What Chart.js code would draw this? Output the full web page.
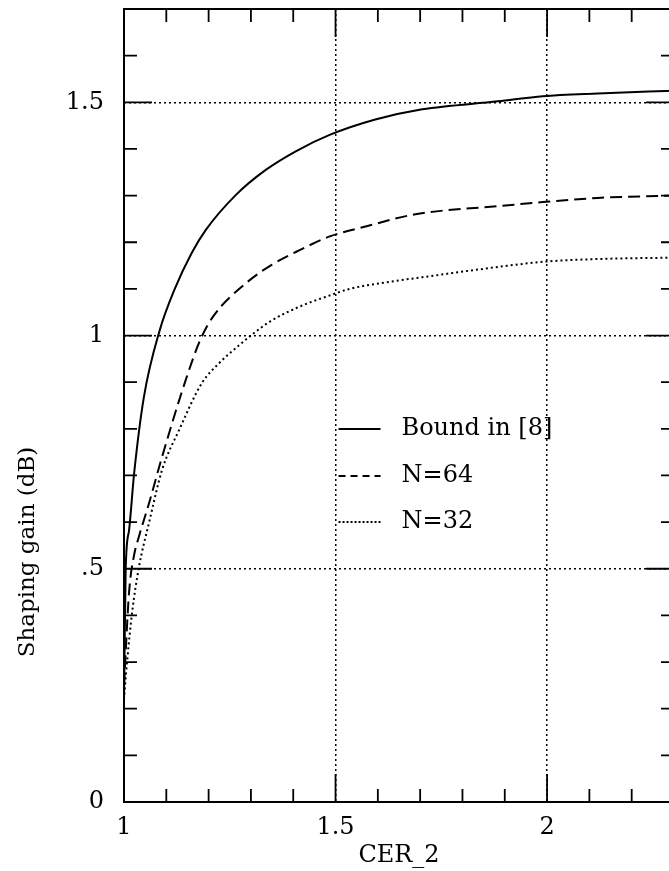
<!DOCTYPE html>
<html>
<head>
<meta charset="utf-8">
<script src="https://cdn.jsdelivr.net/npm/chart.js@4"></script>
<style>
  html, body { margin: 0; padding: 0; background: #fff; overflow: hidden; }
  #wrap { width: 680px; height: 871px; }
</style>
</head>
<body>
<div id="wrap"><canvas id="c" width="680" height="871"></canvas></div>
<script>
// ---- data ----
const boundX = [1.0, 1.004, 1.012, 1.024, 1.047, 1.084, 1.12, 1.16, 1.193, 1.264, 1.335, 1.406, 1.486, 1.594, 1.705, 1.884, 1.99, 2.12, 2.3];
const boundY = [0.22, 0.50, 0.583, 0.705, 0.868, 1.01, 1.10, 1.177, 1.226, 1.301, 1.355, 1.395, 1.43, 1.463, 1.485, 1.502, 1.513, 1.519, 1.525];

const n64X = [1.0, 1.012, 1.024, 1.035, 1.059, 1.09, 1.146, 1.18, 1.21, 1.288, 1.35, 1.415, 1.488, 1.564, 1.689, 1.892, 1.99, 2.12, 2.3];
const n64Y = [0.25, 0.45, 0.53, 0.568, 0.64, 0.74, 0.905, 0.99, 1.04, 1.112, 1.152, 1.183, 1.213, 1.232, 1.26, 1.278, 1.286, 1.295, 1.30];

const n32X = [1.0, 1.002, 1.007, 1.019, 1.035, 1.059, 1.09, 1.13, 1.184, 1.224, 1.264, 1.30, 1.345, 1.415, 1.493, 1.533, 1.627, 1.705, 1.884, 1.99, 2.12, 2.3];
const n32Y = [0.22, 0.244, 0.298, 0.405, 0.502, 0.598, 0.712, 0.797, 0.898, 0.94, 0.973, 1.0, 1.03, 1.062, 1.088, 1.1, 1.115, 1.125, 1.147, 1.158, 1.164, 1.167];

const seriesNames = ['Bound in [8]', 'N=64', 'N=32'];
const xTickValues = [1, 1.5, 2];
const xTickLabels = ['1', '1.5', '2'];
const yTickValues = [0, 0.5, 1, 1.5];
const yTickLabels = ['0', '.5', '1', '1.5'];
const xTitle = 'CER_2';
const yTitle = 'Shaping gain (dB)';

// ---- chart ----
const FONT = '"DejaVu Serif", serif';
const dashes = [[], [12, 6], [2, 3]];
const legendDashes = [[], [7, 5], [2, 2]];

function pts(xs, ys) { return xs.map((x, i) => ({ x: x, y: ys[i] })); }
function isMajor(v) { return Math.abs(v * 2 - Math.round(v * 2)) < 1e-6; }
function labelFor(v, vals, labs) {
  for (let i = 0; i < vals.length; i++) if (Math.abs(vals[i] - v) < 1e-6) return labs[i];
  return '';
}

const frameTicks = {
  id: 'frameTicks',
  afterDatasetsDraw(chart) {
    const ctx = chart.ctx, a = chart.chartArea;
    const xs = chart.scales.x, ys = chart.scales.y;
    ctx.save();
    ctx.strokeStyle = '#000';
    ctx.lineWidth = 2;
    ctx.setLineDash([]);
    ctx.strokeRect(a.left, a.top, a.right - a.left, a.bottom - a.top);
    ctx.lineWidth = 1.8;
    xs.ticks.forEach(t => {
      const p = xs.getPixelForValue(t.value);
      if (p <= a.left + 1 || p >= a.right - 1) return;
      const len = isMajor(t.value) ? 28 : 13;
      ctx.beginPath();
      ctx.moveTo(p, a.bottom); ctx.lineTo(p, a.bottom - len);
      ctx.moveTo(p, a.top); ctx.lineTo(p, a.top + len);
      ctx.stroke();
    });
    ys.ticks.forEach(t => {
      const p = ys.getPixelForValue(t.value);
      if (p >= a.bottom - 1 || p <= a.top + 1) return;
      const len = isMajor(t.value) ? 28 : 13;
      ctx.beginPath();
      ctx.moveTo(a.left, p); ctx.lineTo(a.left + len, p);
      ctx.moveTo(a.right, p); ctx.lineTo(a.right - len, p);
      ctx.stroke();
    });
    // legend
    const lx0 = xs.getPixelForValue(1.5) + 3;
    const lx1 = lx0 + 42;
    const rows = [429, 476, 522];
    ctx.font = '24px ' + FONT;
    ctx.fillStyle = '#000';
    ctx.textBaseline = 'middle';
    ctx.textAlign = 'left';
    seriesNames.forEach((n, i) => {
      ctx.lineWidth = 1.8;
      ctx.setLineDash(legendDashes[i]);
      ctx.beginPath();
      ctx.moveTo(lx0, rows[i]); ctx.lineTo(lx1, rows[i]);
      ctx.stroke();
      ctx.setLineDash([]);
      ctx.fillText(n, lx0 + 63, rows[i]);
    });
    // y title
    ctx.save();
    ctx.translate(28, 552);
    ctx.rotate(-Math.PI / 2);
    ctx.textAlign = 'center';
    ctx.textBaseline = 'middle';
    ctx.font = '23px ' + FONT;
    ctx.fillText(yTitle, 0, 0);
    ctx.restore();
    ctx.restore();
  }
};

const gridColor = c => (c.tick && isMajor(c.tick.value)) ? '#000' : 'rgba(0,0,0,0)';

new Chart(document.getElementById('c'), {
  type: 'line',
  data: {
    datasets: [
      { label: seriesNames[0], data: pts(boundX, boundY) },
      { label: seriesNames[1], data: pts(n64X, n64Y) },
      { label: seriesNames[2], data: pts(n32X, n32Y) }
    ].map((d, i) => Object.assign(d, {
      borderColor: '#000', borderWidth: 2, borderDash: dashes[i],
      pointRadius: 0, fill: false, cubicInterpolationMode: 'monotone'
    }))
  },
  options: {
    responsive: false,
    animation: false,
    events: [],
    layout: { padding: { top: 9, right: 6, left: 0, bottom: 0 } },
    plugins: { legend: { display: false }, tooltip: { enabled: false } },
    scales: {
      x: {
        type: 'linear', min: 1, max: 2.3,
        afterFit: s => { s.height = 69; s.paddingLeft = 0; s.paddingRight = 0; },
        ticks: {
          stepSize: 0.1, autoSkip: false, maxRotation: 0, color: '#000',
          font: { family: FONT, size: 24 }, padding: 11,
          callback: v => labelFor(v, xTickValues, xTickLabels)
        },
        grid: { drawTicks: false, color: gridColor, lineWidth: 1.5, borderDash: [2, 3] },
        border: { display: false, dash: [2, 3] },
        title: { display: true, text: xTitle, color: '#000', font: { family: FONT, size: 24 }, padding: { top: 0, bottom: 1 } }
      },
      y: {
        type: 'linear', min: 0, max: 1.7,
        afterFit: s => { s.width = 124; s.paddingTop = 0; s.paddingBottom = 0; },
        ticks: {
          stepSize: 0.1, autoSkip: false, color: '#000',
          font: { family: FONT, size: 24 }, padding: 20,
          callback: v => labelFor(v, yTickValues, yTickLabels)
        },
        grid: { drawTicks: false, color: gridColor, lineWidth: 1.5, borderDash: [2, 3] },
        border: { display: false, dash: [2, 3] }
      }
    }
  },
  plugins: [frameTicks]
});
</script>
</body>
</html>
